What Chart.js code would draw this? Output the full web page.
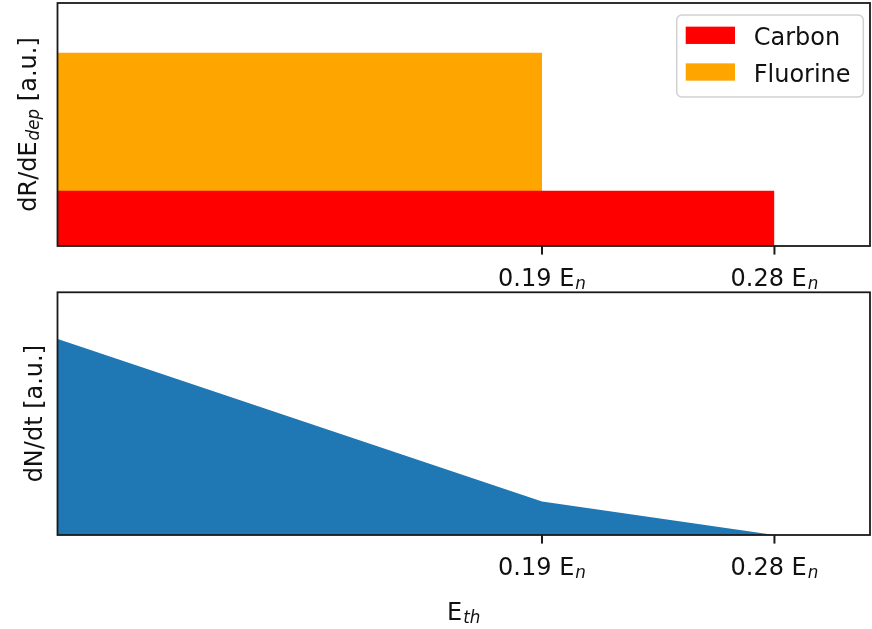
<!DOCTYPE html>
<html>
<head>
<meta charset="utf-8">
<script src="https://cdn.jsdelivr.net/npm/chart.js@4/dist/chart.umd.min.js"></script>
<style>
  html, body { margin: 0; padding: 0; background: #fff; }
  #wrap { position: relative; width: 872px; height: 629px; }
  #wrap canvas { position: absolute; left: 0; top: 0; }
</style>
</head>
<body>
<div id="wrap">
  <canvas id="rate" width="872" height="629"></canvas>
  <canvas id="count" width="872" height="629"></canvas>
</div>
<script>
// Recoil spectra: flat deposited-energy spectra up to each element's kinematic edge
const elements = ['Carbon', 'Fluorine'];
const elementColors = ['#ff0000', '#ffa500'];
const recoilEdges = [0.28, 0.19];   // maximum recoil energy, in units of E_n
const recoilRates = [1.0, 2.5];     // spectrum height (a.u.), stacked in this order

// Integrated count rate as a function of the detection threshold
const thresholds = [0, 0.19, 0.28, 0.32];
const countRates = [1.0, 0.169, 0, 0];

// Axis ticks
const tickValues = [0.19, 0.28];
const tickLabels = ['0.19', '0.28'];

const xRange = [0.0024, 0.317];
const rateMax = 4.4;
const countMax = 1.224;

const FONT = '"DejaVu Sans", "Liberation Sans", sans-serif';
const SIZE = 24;
const INK = '#111';

function setFont(ctx, sub, size) {
  ctx.font = sub ? `italic ${size * 0.7}px ${FONT}` : `${size}px ${FONT}`;
}
function richWidth(ctx, parts, size) {
  let w = 0;
  for (const p of parts) {
    setFont(ctx, p.sub, size);
    w += ctx.measureText(p.t).width + (p.sub ? 1 : 0);
  }
  return w;
}
function drawRich(ctx, parts, x, y, size) {
  for (const p of parts) {
    setFont(ctx, p.sub, size);
    if (p.sub) {
      x += 1;
      ctx.fillText(p.t, x, y + size * 0.12);
    } else {
      ctx.fillText(p.t, x, y);
    }
    x += ctx.measureText(p.t).width;
  }
}

// Draws the axes box, tick marks, tick labels, axis titles and (optionally) the legend
const framePlugin = {
  id: 'frame',
  afterDraw(chart, args, opts) {
    const ctx = chart.ctx;
    const a = chart.chartArea;
    const xs = chart.scales.x;
    ctx.save();
    ctx.textAlign = 'left';
    ctx.textBaseline = 'alphabetic';
    ctx.fillStyle = INK;

    // ticks on the bottom spine
    ctx.strokeStyle = '#1a1a1a';
    ctx.lineWidth = 2;
    tickValues.forEach((v, i) => {
      const px = xs.getPixelForValue(v);
      ctx.beginPath();
      ctx.moveTo(px, a.bottom);
      ctx.lineTo(px, a.bottom + 8.6);
      ctx.stroke();
      const parts = [{ t: tickLabels[i] + ' E' }, { t: 'n', sub: true }];
      const w = richWidth(ctx, parts, SIZE);
      drawRich(ctx, parts, px - w / 2, a.bottom + 40, SIZE);
    });

    // spines
    ctx.strokeStyle = '#1a1a1a';
    ctx.lineWidth = 1.8;
    ctx.strokeRect(a.left, a.top, a.right - a.left, a.bottom - a.top);

    // y title
    if (opts.yTitle) {
      const w = richWidth(ctx, opts.yTitle, SIZE);
      ctx.save();
      ctx.translate(opts.yTitleX, (a.top + a.bottom) / 2);
      ctx.rotate(-Math.PI / 2);
      drawRich(ctx, opts.yTitle, -w / 2, 0, SIZE);
      ctx.restore();
    }
    // x title
    if (opts.xTitle) {
      const w = richWidth(ctx, opts.xTitle, SIZE);
      drawRich(ctx, opts.xTitle, (a.left + a.right) / 2 - w / 2, opts.xTitleY, SIZE);
    }

    // legend
    if (opts.legend) {
      const L = opts.legend;
      const r = 5;
      ctx.beginPath();
      ctx.moveTo(L.x + r, L.y);
      ctx.arcTo(L.x + L.w, L.y, L.x + L.w, L.y + L.h, r);
      ctx.arcTo(L.x + L.w, L.y + L.h, L.x, L.y + L.h, r);
      ctx.arcTo(L.x, L.y + L.h, L.x, L.y, r);
      ctx.arcTo(L.x, L.y, L.x + L.w, L.y, r);
      ctx.closePath();
      ctx.fillStyle = 'rgba(255,255,255,0.8)';
      ctx.fill();
      ctx.strokeStyle = 'rgba(204,204,204,0.9)';
      ctx.lineWidth = 1.5;
      ctx.stroke();
      chart.data.datasets.forEach((ds, i) => {
        const cy = L.y + 20.3 + i * 36.7;
        ctx.fillStyle = ds.backgroundColor;
        ctx.fillRect(L.x + 9, cy - 8.65, 49.3, 17.3);
        ctx.fillStyle = INK;
        setFont(ctx, false, SIZE);
        ctx.fillText(ds.label, L.x + 77, cy + 9.5);
      });
    }
    ctx.restore();
  }
};

function baseOptions(yMax, padTop, padBottom, frame) {
  return {
    animation: false,
    responsive: false,
    maintainAspectRatio: false,
    layout: { padding: { left: 57.5, right: 2, top: padTop, bottom: padBottom } },
    scales: {
      x: { type: 'linear', min: xRange[0], max: xRange[1], display: false },
      y: { type: 'linear', min: 0, max: yMax, display: false }
    },
    elements: { point: { radius: 0 }, line: { tension: 0 } },
    plugins: { legend: { display: false }, tooltip: { enabled: false }, frame }
  };
}

// Stacked flat spectra: each element spans [0, edge] on top of the previous ones
let base = 0;
const rateSets = elements.map((name, i) => {
  const top = base + recoilRates[i];
  base = top;
  return {
    label: name,
    data: [{ x: 0, y: top }, { x: recoilEdges[i], y: top }, { x: recoilEdges[i], y: 0 }],
    backgroundColor: elementColors[i],
    borderColor: 'rgba(0,0,0,0)',
    borderWidth: 0,
    fill: 'origin'
  };
});

new Chart(document.getElementById('rate'), {
  type: 'line',
  data: { datasets: rateSets },
  options: baseOptions(rateMax, 3, 629 - 246, {
    yTitle: [{ t: 'dR/dE' }, { t: 'dep', sub: true }, { t: ' [a.u.]' }],
    yTitleX: 36,
    legend: { x: 676.7, y: 15, w: 186.6, h: 82 }
  }),
  plugins: [framePlugin]
});

new Chart(document.getElementById('count'), {
  type: 'line',
  data: {
    datasets: [{
      label: 'dN/dt',
      data: thresholds.map((t, i) => ({ x: t, y: countRates[i] })),
      backgroundColor: '#1f77b4',
      borderColor: 'rgba(0,0,0,0)',
      borderWidth: 0,
      fill: 'origin'
    }]
  },
  options: baseOptions(countMax, 292.3, 629 - 535, {
    yTitle: [{ t: 'dN/dt [a.u.]' }],
    yTitleX: 42,
    xTitle: [{ t: 'E' }, { t: 'th', sub: true }],
    xTitleY: 620
  }),
  plugins: [framePlugin]
});
</script>
</body>
</html>
